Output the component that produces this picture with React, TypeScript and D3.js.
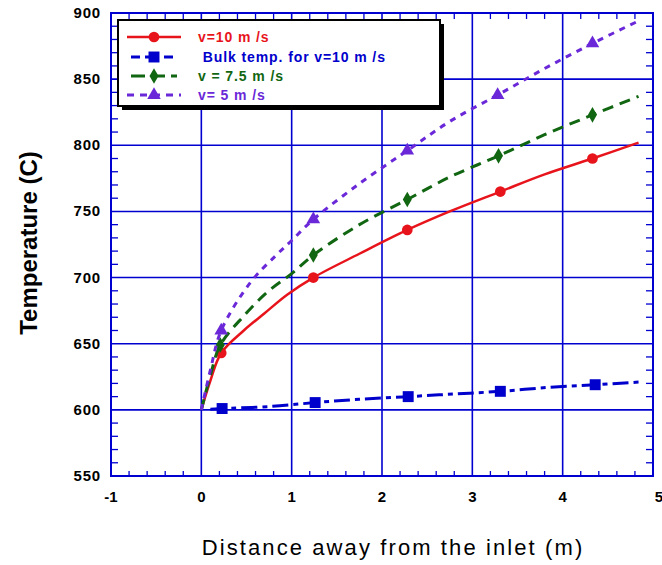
import * as d3 from "d3";

// v = 10 m/s wall temperature
const redX = [0, 0.1, 0.22, 0.47, 0.7, 0.95, 1.24, 1.75, 2.28, 2.75, 3.31, 3.8, 4.33, 4.84];
const redY = [600, 622, 643, 660, 673, 687, 700, 718, 736, 750, 765, 778, 790, 802];
// bulk temp for v = 10 m/s
const blueX = [0.1, 0.23, 0.75, 1.26, 1.75, 2.29, 2.8, 3.31, 3.85, 4.36, 4.84];
const blueY = [600.5, 601, 602.5, 605.5, 608, 610, 612, 614, 617, 619, 621];
// v = 7.5 m/s
const greenX = [0, 0.1, 0.21, 0.47, 0.73, 1.0, 1.24, 1.75, 2.28, 2.75, 3.29, 3.8, 4.33, 4.84];
const greenY = [600, 626, 649, 671, 689, 703, 717, 740, 759, 776, 792, 808, 823, 837];
// v = 5 m/s
const purpleX = [0, 0.1, 0.22, 0.54, 0.83, 1.0, 1.24, 1.75, 2.28, 2.75, 3.28, 3.8, 4.33, 4.84];
const purpleY = [600, 630, 660, 696, 717, 728, 744, 771, 796, 818, 838, 858, 877, 894];

// which points carry a marker
const redMarks = [2, 6, 8, 10, 12];
const blueMarks = [1, 3, 5, 7, 9];
const greenMarks = [2, 6, 8, 10, 12];
const purpleMarks = [2, 6, 8, 10, 12];

const xTicks = [-1, 0, 1, 2, 3, 4, 5];
const yTicks = [550, 600, 650, 700, 750, 800, 850, 900];
const legendLabels = ["v=10 m /s", " Bulk temp. for v=10 m /s", "v = 7.5 m /s", "v= 5 m /s"];

const W = 662, H = 565;
const left = 111, right = 653, top = 13, bottom = 476;
const FONT = "'Liberation Sans', Arial, sans-serif";

const x = d3.scaleLinear().domain([-1, 5]).range([left, right]);
const y = d3.scaleLinear().domain([550, 900]).range([bottom, top]);

const GRID = "#0000d0";

const series = [
  { xs: redX, ys: redY, marks: redMarks, color: "#e8141c", width: 2.5, dash: "", symbol: d3.symbolCircle, size: 90 },
  { xs: blueX, ys: blueY, marks: blueMarks, color: "#0000cc", width: 3, dash: "16,5,5,5", symbol: d3.symbolSquare, size: 120 },
  { xs: greenX, ys: greenY, marks: greenMarks, color: "#116611", width: 3, dash: "11,7", symbol: d3.symbolDiamond, size: 70 },
  { xs: purpleX, ys: purpleY, marks: purpleMarks, color: "#6a28d8", width: 3, dash: "6,6", symbol: d3.symbolTriangle, size: 80 },
];

export default function App() {
  const line = d3.line<[number, number]>()
    .x(d => x(d[0]))
    .y(d => y(d[1]))
    .curve(d3.curveCatmullRom.alpha(0.5));

  const xMinor = d3.range(-1, 5.001, 0.2).filter(v => Math.abs(v - Math.round(v)) > 0.01);
  const yMinor = d3.range(550, 900.1, 10).filter(v => v % 50 !== 0);

  const legX = 118, legY = 20, legW = 322, legH = 86;
  const rowY = [37, 57, 76, 95];

  return (
    <svg width={W} height={H} style={{ position: "absolute", left: 0, top: 0, background: "#fff" }}>
      {/* grid */}
      {xTicks.map(t => (
        <line key={"gx" + t} x1={x(t)} x2={x(t)} y1={top} y2={bottom} stroke={GRID} strokeWidth={1.6} />
      ))}
      {yTicks.map(t => (
        <line key={"gy" + t} x1={left} x2={right} y1={y(t)} y2={y(t)} stroke={GRID} strokeWidth={1.6} />
      ))}
      {/* minor ticks on all four sides */}
      {xMinor.map((t, i) => (
        <g key={"mx" + i} stroke={GRID} strokeWidth={1.3}>
          <line x1={x(t)} x2={x(t)} y1={bottom} y2={bottom - 5} />
          <line x1={x(t)} x2={x(t)} y1={top} y2={top + 6} />
        </g>
      ))}
      {yMinor.map((t, i) => (
        <g key={"my" + i} stroke={GRID} strokeWidth={1.3}>
          <line x1={left} x2={left + 7} y1={y(t)} y2={y(t)} />
          <line x1={right} x2={right - 7} y1={y(t)} y2={y(t)} />
        </g>
      ))}
      <rect x={left} y={top} width={right - left} height={bottom - top} fill="none" stroke={GRID} strokeWidth={2} />

      {/* tick labels */}
      {yTicks.map(t => (
        <text key={"ly" + t} x={101} y={y(t) + 5} textAnchor="end" fontFamily={FONT} fontWeight="bold" fontSize={15} letterSpacing={0.8}>{t}</text>
      ))}
      {xTicks.map(t => (
        <text key={"lx" + t} x={x(t) + (t === 5 ? 6 : 0)} y={502} textAnchor="middle" fontFamily={FONT} fontWeight="bold" fontSize={15}>{t}</text>
      ))}

      {/* axis titles */}
      <text transform="translate(37,243) rotate(-90)" textAnchor="middle" fontFamily={FONT} fontWeight="bold" fontSize={24}>Temperature (C)</text>
      <text x={393} y={555} textAnchor="middle" fontFamily={FONT} fontSize={22} letterSpacing={2.1}>Distance away from the inlet (m)</text>

      {/* series */}
      {series.map((s, i) => {
        const pts = s.xs.map((v, j) => [v, s.ys[j]] as [number, number]);
        const sym = d3.symbol().type(s.symbol).size(s.size)();
        return (
          <g key={"s" + i}>
            <path d={line(pts) || ""} fill="none" stroke={s.color} strokeWidth={s.width} strokeDasharray={s.dash} />
            {s.marks.map(j => (
              <path key={j} d={sym || ""} transform={`translate(${x(s.xs[j])},${y(s.ys[j])})`} fill={s.color} />
            ))}
          </g>
        );
      })}

      {/* legend */}
      <rect x={legX + 4} y={legY + 4} width={legW} height={legH} fill="#000" />
      <rect x={legX} y={legY} width={legW} height={legH} fill="#fff" stroke="#000" strokeWidth={2} />
      {series.map((s, i) => {
        const sym = d3.symbol().type(s.symbol).size(s.size)();
        const x1 = i === 0 || i === 3 ? 127 : 131;
        const x2 = i === 0 || i === 3 ? 181 : 177;
        return (
          <g key={"lg" + i}>
            <line x1={x1} x2={x2} y1={rowY[i]} y2={rowY[i]} stroke={s.color} strokeWidth={s.width}
              strokeDasharray={i === 3 ? "7,6" : i === 0 ? "" : i === 1 ? "9,5,14,5" : "14,6"} />
            <path d={sym || ""} transform={`translate(${154},${rowY[i]})`} fill={s.color} />
            <text x={198} y={rowY[i] + 5} fill={s.color} fontFamily={FONT} fontWeight="bold"
              fontSize={14} letterSpacing={0.9} style={{ whiteSpace: "pre" }}>{legendLabels[i]}</text>
          </g>
        );
      })}
    </svg>
  );
}
